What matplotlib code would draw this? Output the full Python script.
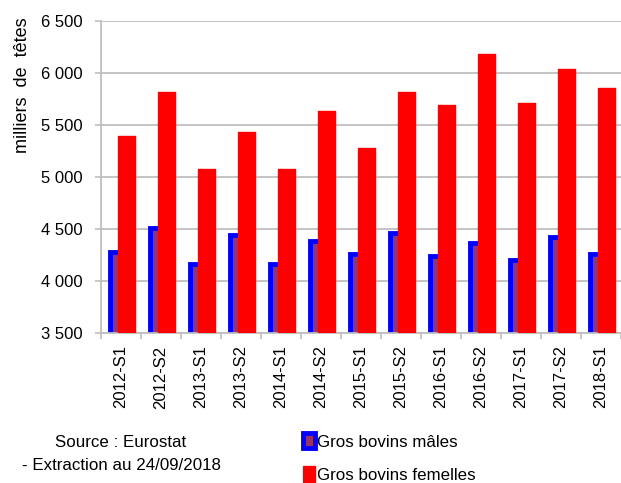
import matplotlib.pyplot as plt
import numpy as np
from matplotlib.ticker import FuncFormatter

plt.rcParams['font.family'] = ['Liberation Sans', 'DejaVu Sans']

# données (milliers de têtes)
periodes = ['2012-S1', '2012-S2', '2013-S1', '2013-S2', '2014-S1', '2014-S2', '2015-S1',
            '2015-S2', '2016-S1', '2016-S2', '2017-S1', '2017-S2', '2018-S1']
males = [4280, 4510, 4165, 4440, 4165, 4385, 4260, 4460, 4240, 4365, 4200, 4420, 4260]
femelles = [5393, 5820, 5073, 5435, 5073, 5637, 5275, 5820, 5691, 6179, 5708, 6035, 5852]

fig = plt.figure(figsize=(6.21, 4.83), dpi=100)
ax = fig.add_axes([101 / 621, 1 - 333 / 483, 520 / 621, (333 - 21) / 483])

x = np.arange(len(periodes))
gris = '#BFBFBF'

ax.bar(x - 0.116, males, width=0.33, color='#993366', edgecolor='#0000FF',
       linewidth=3.5, zorder=2, label='Gros bovins mâles')
ax.bar(x + 0.1425, femelles, width=0.42, color='#FF0000', edgecolor='#FF0000',
       linewidth=1, joinstyle='round', zorder=3, label='Gros bovins femelles')

ax.set_ylim(3500, 6500)
ax.set_xlim(-0.5, len(periodes) - 0.5)
ax.set_yticks(np.arange(3500, 6501, 500))
ax.yaxis.set_major_formatter(FuncFormatter(lambda v, p: f'{int(v):,}'.replace(',', ' ')))
ax.grid(axis='y', color=gris, linewidth=1.3, zorder=0)
ax.set_axisbelow(True)

# ticks entre les groupes, étiquettes au centre
ax.set_xticks(np.arange(-0.5, len(periodes), 1))
ax.set_xticklabels([])
ax.set_xticks(x, minor=True)
ax.set_xticklabels(periodes, minor=True, rotation=90, fontsize=12)
ax.tick_params(axis='x', which='minor', length=0, pad=9)
ax.tick_params(axis='x', which='major', length=4, color=gris, width=1.2)
ax.tick_params(axis='y', length=4, color=gris, width=1.2, labelsize=12, pad=9)

for s in ['top', 'right']:
    ax.spines[s].set_visible(False)
for s in ['left', 'bottom']:
    ax.spines[s].set_color(gris)
    ax.spines[s].set_linewidth(1.3)

fig.text(22.5 / 621, 1 - 17 / 483, 'milliers  de  têtes', rotation=90, va='top', ha='center',
         fontsize=13)

fig.text(121 / 621, 1 - 454 / 483, 'Source : Eurostat\n- Extraction au 24/09/2018',
         ha='center', va='center', fontsize=12.2, linespacing=1.6)

ax.legend(loc='center left', bbox_to_anchor=(288 / 621, 1 - 458 / 483),
          bbox_transform=fig.transFigure, frameon=False, fontsize=12.2,
          handlelength=0.7, handleheight=1.0, handletextpad=0.12, labelspacing=1.0)

plt.savefig('out.png', dpi=100)
